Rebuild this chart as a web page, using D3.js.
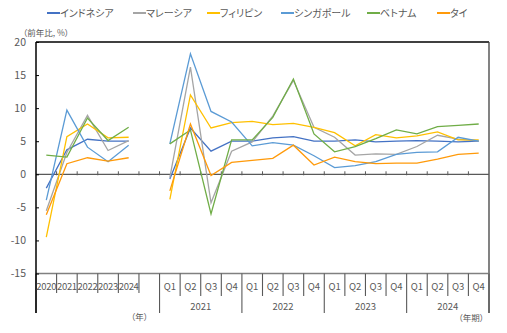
<!DOCTYPE html>
<html>
<head>
<meta charset="utf-8">
<script src="https://cdn.jsdelivr.net/npm/d3@7"></script>
<style>
  html, body { margin: 0; padding: 0; background: #ffffff; }
  svg { display: block; font-family: "Noto Sans CJK JP", "Noto Sans", sans-serif; font-feature-settings: "palt"; }
  text { fill: #595959; }
</style>
</head>
<body>
<svg id="chart" width="507" height="333"></svg>
<script>
// Categories: five calendar years, an empty spacer slot, then 16 quarters
const annualLabels = ["2020", "2021", "2022", "2023", "2024"];
const quarterLabels = ["Q1", "Q2", "Q3", "Q4"];
const quarterYears = ["2021", "2022", "2023", "2024"];
const yTicks = [20, 15, 10, 5, 0, -5, -10, -15];

// Real GDP growth, year on year (%)
const countries = ["インドネシア", "マレーシア", "フィリピン", "シンガポール", "ベトナム", "タイ"];
const colors = ["#4472C4", "#A5A5A5", "#FFC000", "#5B9BD5", "#70AD47", "#FF9A0A"];

const indonesiaAnnual   = [-2.1, 3.7, 5.3, 5.0, 5.0];
const malaysiaAnnual    = [-5.5, 3.3, 8.9, 3.6, 5.1];
const philippinesAnnual = [-9.5, 5.7, 7.6, 5.5, 5.6];
const singaporeAnnual   = [-3.9, 9.7, 4.1, 1.9, 4.4];
const vietnamAnnual     = [2.9, 2.6, 8.5, 5.1, 7.1];
const thailandAnnual    = [-6.1, 1.6, 2.5, 2.0, 2.5];

const indonesiaQuarterly   = [-0.7, 7.0, 3.5, 5.0, 5.0, 5.5, 5.7, 5.0, 5.0, 5.2, 4.9, 5.0, 5.1, 5.0, 4.9, 5.0];
const malaysiaQuarterly    = [-0.5, 16.2, -4.3, 3.5, 4.9, 8.8, 14.2, 7.1, 5.6, 2.9, 3.1, 3.0, 4.2, 5.9, 5.3, 5.0];
const philippinesQuarterly = [-3.8, 12.0, 7.0, 7.8, 8.0, 7.5, 7.7, 7.1, 6.3, 4.3, 6.0, 5.5, 5.8, 6.4, 5.2, 5.2];
const singaporeQuarterly   = [4.6, 18.2, 9.5, 7.9, 4.3, 4.8, 4.4, 2.8, 1.0, 1.3, 1.9, 3.0, 3.3, 3.4, 5.6, 5.0];
const vietnamQuarterly     = [4.6, 6.7, -6.0, 5.2, 5.2, 8.6, 14.4, 6.1, 3.4, 4.2, 5.4, 6.7, 6.1, 7.2, 7.4, 7.6];
const thailandQuarterly    = [-2.5, 7.6, -0.2, 1.8, 2.1, 2.4, 4.4, 1.4, 2.6, 1.9, 1.6, 1.7, 1.7, 2.3, 3.0, 3.2];

const annualSeries = [indonesiaAnnual, malaysiaAnnual, philippinesAnnual, singaporeAnnual, vietnamAnnual, thailandAnnual];
const quarterlySeries = [indonesiaQuarterly, malaysiaQuarterly, philippinesQuarterly, singaporeQuarterly, vietnamQuarterly, thailandQuarterly];

(function draw() {
  // category keys
  const annualKeys = annualLabels.map(d => "A" + d);
  const quarterKeys = [];
  quarterYears.forEach(yr => quarterLabels.forEach(q => quarterKeys.push(yr + q)));
  const allKeys = [...annualKeys, "gap", ...quarterKeys];

  const svg = d3.select("#chart");
  const plotLeft = 36, plotRight = 489, plotTop = 42, plotBottom = 273.5;

  const x = d3.scaleBand().domain(allKeys).range([plotLeft, plotRight]).padding(0);
  const y = d3.scaleLinear().domain([-15, 20]).range([plotBottom, plotTop]);
  const cx = k => x(k) + x.bandwidth() / 2;

  // frame: top and right edges
  svg.append("line").attr("x1", plotLeft).attr("x2", plotRight).attr("y1", plotTop).attr("y2", plotTop)
    .attr("stroke", "#000").attr("stroke-width", 1.3);
  svg.append("line").attr("x1", plotRight).attr("x2", plotRight).attr("y1", plotTop).attr("y2", 313)
    .attr("stroke", "#404040").attr("stroke-width", 1.3);

  // bottom category axis line
  svg.append("line").attr("x1", plotLeft).attr("x2", plotRight).attr("y1", plotBottom).attr("y2", plotBottom)
    .attr("stroke", "#808080").attr("stroke-width", 1.5);

  // category separators below the axis: long ones bound the year groups
  const boundaries = allKeys.map(k => x(k)).concat([plotRight]);
  boundaries.forEach((bx, i) => {
    const groupEdge = i === 0 || i === 6 || (i > 6 && (i - 6) % 4 === 0);
    const y2 = groupEdge ? 313 : (i <= 5 ? 293 : 296);
    svg.append("line").attr("x1", bx).attr("x2", bx).attr("y1", plotBottom).attr("y2", y2)
      .attr("stroke", "#595959").attr("stroke-width", 1.1);
  });

  // zero line with category ticks
  svg.append("line").attr("x1", plotLeft).attr("x2", plotRight).attr("y1", y(0)).attr("y2", y(0))
    .attr("stroke", "#595959").attr("stroke-width", 1.3);
  boundaries.slice(1, -1).forEach(bx => {
    svg.append("line").attr("x1", bx).attr("x2", bx).attr("y1", y(0) - 3).attr("y2", y(0) + 1)
      .attr("stroke", "#595959").attr("stroke-width", 1);
  });

  // y axis
  const yAxis = d3.axisRight(y).tickValues(yTicks).tickSize(3).tickFormat("");
  const yG = svg.append("g").attr("transform", `translate(${plotLeft},0)`).call(yAxis);
  yG.select(".domain").remove();
  yG.selectAll(".tick line").attr("stroke", "#000");
  svg.append("line").attr("x1", plotLeft).attr("x2", plotLeft).attr("y1", plotTop).attr("y2", 313)
    .attr("stroke", "#000").attr("stroke-width", 1.5);
  svg.append("g").selectAll("text").data(yTicks).join("text")
    .attr("x", 26).attr("y", d => y(d)).attr("dy", "0.35em")
    .attr("text-anchor", "end").attr("font-size", 10.5).text(d => d);

  // axis captions
  svg.append("text").attr("x", 23).attr("y", 33).attr("dy", "0.35em")
    .attr("font-size", 8.5).text("（前年比, %）");
  svg.append("text").attr("x", 148).attr("y", 317).attr("dy", "0.35em")
    .attr("text-anchor", "end").attr("font-size", 8.5).text("（年）");
  svg.append("text").attr("x", 484).attr("y", 318).attr("dy", "0.35em")
    .attr("text-anchor", "end").attr("font-size", 8.5).text("（年期）");

  // category labels
  svg.append("g").selectAll("text").data(annualKeys).join("text")
    .attr("x", k => cx(k)).attr("y", 287).attr("dy", "0.35em")
    .attr("text-anchor", "middle").attr("font-size", 9.5).attr("letter-spacing", -0.3)
    .text((k, i) => annualLabels[i]);
  svg.append("g").selectAll("text").data(quarterKeys).join("text")
    .attr("x", k => cx(k)).attr("y", 287).attr("dy", "0.35em")
    .attr("text-anchor", "middle").attr("font-size", 9.5)
    .text((k, i) => quarterLabels[i % 4]);
  svg.append("g").selectAll("text").data(quarterYears).join("text")
    .attr("x", (yr, i) => (x(quarterKeys[i * 4]) + x(quarterKeys[i * 4 + 3]) + x.bandwidth()) / 2)
    .attr("y", 307).attr("dy", "0.35em")
    .attr("text-anchor", "middle").attr("font-size", 9.5).text(d => d);

  // series lines: annual block and quarterly block drawn separately
  const line = d3.line().x(d => cx(d.k)).y(d => y(d.v));
  countries.forEach((name, s) => {
    const a = annualSeries[s].map((v, i) => ({ k: annualKeys[i], v }));
    const q = quarterlySeries[s].map((v, i) => ({ k: quarterKeys[i], v }));
    [a, q].forEach(pts => {
      svg.append("path").datum(pts).attr("d", line)
        .attr("fill", "none").attr("stroke", colors[s]).attr("stroke-width", 1.3)
        .attr("stroke-linejoin", "miter");
    });
  });

  // legend
  const legendX = [47, 133, 207, 281, 367, 437];
  const legend = svg.append("g").selectAll("g").data(countries).join("g")
    .attr("transform", (d, i) => `translate(${legendX[i]},13)`);
  legend.append("line").attr("x1", 0).attr("x2", 13).attr("y1", 0).attr("y2", 0)
    .attr("stroke", (d, i) => colors[i]).attr("stroke-width", 2);
  legend.append("text").attr("x", 13).attr("y", 0).attr("dy", "0.35em")
    .attr("font-size", 10).text(d => d);
})();
</script>
</body>
</html>
